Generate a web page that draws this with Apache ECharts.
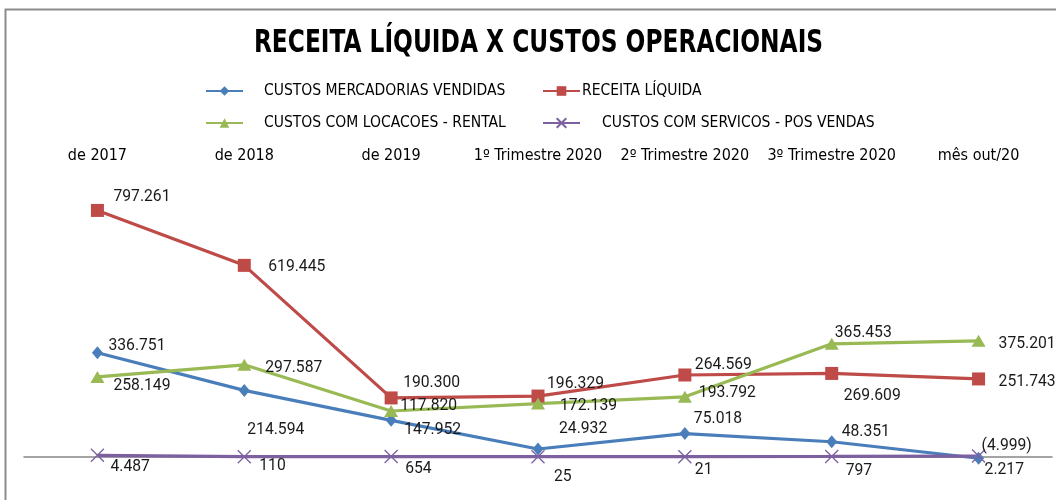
<!DOCTYPE html>
<html>
<head>
<meta charset="utf-8">
<script src="https://cdn.jsdelivr.net/npm/echarts@6/dist/echarts.min.js"></script>
<style>
  html, body { margin: 0; padding: 0; background: #ffffff; }
  #chart { width: 1056px; height: 500px; }
</style>
</head>
<body>
<div id="chart"></div>
<script>
// ---- data ----
const titleText = 'RECEITA LÍQUIDA X CUSTOS OPERACIONAIS';
const categories = ['de 2017', 'de 2018', 'de 2019', '1º Trimestre 2020', '2º Trimestre 2020', '3º Trimestre 2020', 'mês out/20'];
const seriesNames = ['CUSTOS MERCADORIAS VENDIDAS', 'RECEITA LÍQUIDA', 'CUSTOS COM LOCACOES - RENTAL', 'CUSTOS COM SERVICOS - POS VENDAS'];
const custosMercadorias = [336751, 214594, 117820, 24932, 75018, 48351, -4999];
const receitaLiquida = [797261, 619445, 190300, 196329, 264569, 269609, 251743];
const custosLocacoes = [258149, 297587, 147952, 172139, 193792, 365453, 375201];
const custosServicos = [4487, 110, 654, 25, 21, 797, 2217];

// ---- label placement (offset of label's left edge / vertical centre from the point) ----
const offMercadorias = [[11,-7],[3,40],[9,-14],[21,-20],[9,-14.5],[10,-10],[3,-12]];
const offReceita = [[16,-13],[24,2],[12,-15],[9,-12],[10,-10],[12,23],[20,3]];
const offLocacoes = [[16,9],[21,3],[13,19],[22,3],[14,-4],[3,-11],[20,3]];
const offServicos = [[13,12],[15,9],[14,13],[16,20],[10,13],[14,15],[6,14]];

const colors = ['#4A7EBB', '#BE4B48', '#98B954', '#7D60A0'];
const narrow = '"Liberation Sans Narrow", "DejaVu Sans Condensed", sans-serif';

function fmt(v) {
  const s = Math.abs(v).toString().replace(/\B(?=(\d{3})+(?!\d))/g, '.');
  return v < 0 ? '(' + s + ')' : s;
}
function build(values, offsets) {
  return values.map((v, i) => ({ value: v, label: { offset: offsets[i] } }));
}
const labelBase = {
  show: true,
  position: 'inside',
  align: 'left',
  verticalAlign: 'middle',
  fontFamily: 'Roboto, sans-serif',
  fontSize: 15.7,
  color: '#1a1a1a',
  formatter: p => fmt(p.value)
};

function lineSeries(idx, values, offsets, symbol, size, extraItem) {
  return {
    name: seriesNames[idx],
    type: 'line',
    xAxisIndex: 0,
    data: build(values, offsets),
    symbol: symbol,
    symbolSize: size,
    showAllSymbol: true,
    lineStyle: { color: colors[idx], width: 3.2 },
    itemStyle: Object.assign({ color: colors[idx], borderWidth: 0 }, extraItem || {}),
    label: labelBase,
    emphasis: { disabled: true },
    animation: false
  };
}

const legendText = { fontFamily: narrow, fontSize: 15.5, color: '#000', lineHeight: 20 };
function legend(name, left, top, pad) {
  return {
    data: [name], left: left, top: top, padding: 0,
    itemWidth: 37, itemHeight: 12,
    textStyle: Object.assign({ padding: [0, 0, 0, pad] }, legendText),
    selectedMode: false
  };
}

const chart = echarts.init(document.getElementById('chart'), null, { renderer: 'canvas' });
chart.setOption({
  animation: false,
  backgroundColor: '#ffffff',
  legend: [
    legend(seriesNames[0], 205, 81, 16),
    legend(seriesNames[1], 542, 81, -3),
    legend(seriesNames[2], 205, 113, 16),
    legend(seriesNames[3], 542, 113, 17)
  ],
  graphic: [{
    type: 'polyline', silent: true,
    shape: { points: [[5.5, 500], [5.5, 9.5], [1056, 9.5]] },
    style: { stroke: '#8c8c8c', lineWidth: 2, fill: null }
  }, {
    type: 'text', silent: true,
    x: 538.5, y: 43.5, scaleX: 0.81,
    style: {
      text: titleText, fill: '#000',
      fontFamily: narrow, fontWeight: 'bold', fontSize: 32,
      align: 'center', verticalAlign: 'middle'
    }
  }],
  grid: { left: 24, right: 4, top: 178.7, bottom: 12.4, containLabel: false },
  xAxis: [{
    type: 'category', position: 'top', data: categories, boundaryGap: true,
    axisLine: { show: false, onZero: false }, axisTick: { show: false },
    axisLabel: { interval: 0, margin: 15, fontFamily: narrow, fontSize: 16, color: '#000' },
    splitLine: { show: false }
  }, {
    type: 'category', position: 'bottom', data: categories, boundaryGap: true,
    axisLine: { show: true, onZero: true, lineStyle: { color: '#868686', width: 1.5 } },
    axisTick: { show: false }, axisLabel: { show: false }, splitLine: { show: false }
  }],
  yAxis: {
    type: 'value', min: -100000, max: 900000, show: false,
    splitLine: { show: false }
  },
  series: [
    lineSeries(0, custosMercadorias, offMercadorias, 'diamond', [11, 13]),
    lineSeries(1, receitaLiquida, offReceita, 'rect', 13),
    lineSeries(2, custosLocacoes, offLocacoes, 'triangle', [14, 12]),
    lineSeries(3, custosServicos, offServicos, 'path://M0,0L10,10M10,0L0,10', 13,
      { borderColor: colors[3], borderWidth: 1.3 })
  ]
});
</script>
</body>
</html>
